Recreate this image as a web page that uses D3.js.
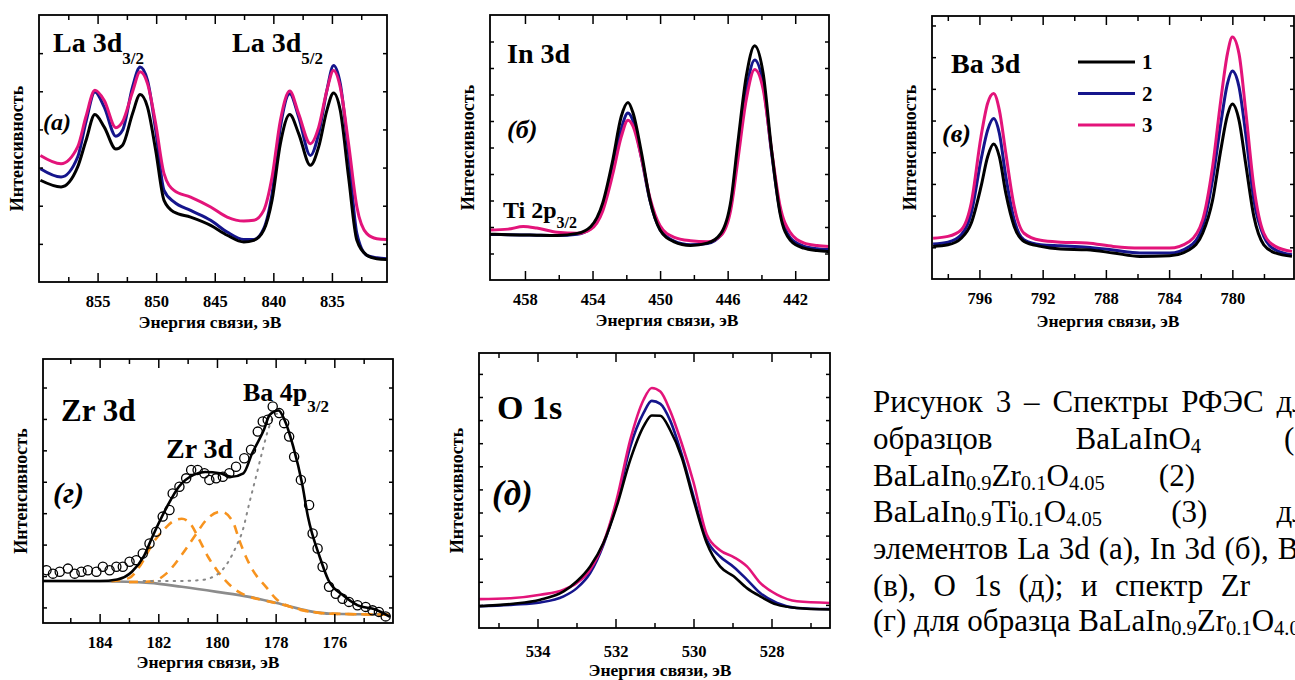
<!DOCTYPE html>
<html lang="ru">
<head>
<meta charset="UTF-8">
<title>Спектры РФЭС</title>
<script src="https://cdn.jsdelivr.net/npm/d3@7"></script>
<style>
  body { margin: 0; background: #fff; overflow: hidden; }
  svg { display: block; }
  svg text { font-family: "Liberation Serif", "DejaVu Serif", "Times New Roman", serif; }
</style>
</head>
<body>
<script>
// sample colours: 1 - BaLaInO4, 2 - Zr doped, 3 - Ti doped
const sampleColors = ["#000000", "#15158c", "#e3147a"];
const sampleNames = ["1", "2", "3"];

// (a) La 3d, intensity in % of frame height
const laEnergy = [859.88, 858.12, 856.70, 855.99, 855.23, 854.43, 853.44, 852.87, 852.02, 851.37, 850.74, 850.04, 849.33, 848.48, 847.06, 845.35, 843.94, 842.52, 841.67, 840.82, 840.11, 839.40, 838.60, 837.84, 836.84, 836.13, 835.43, 834.86, 834.29, 833.58, 832.87, 832.02, 831.17, 830.32];
const la1 = [38.1, 35.6, 43.1, 53, 62.7, 58, 49.8, 51.2, 63, 70.2, 65.5, 49.3, 30.6, 26.2, 24.3, 21.2, 17.5, 15, 15.6, 19.4, 30.6, 51.8, 62.7, 55.6, 43.7, 50.6, 64.3, 70.8, 64.3, 39.3, 15.6, 10, 8.7, 8.4];
const la2 = [42.4, 39.3, 46.8, 60, 71.2, 65.5, 54.6, 56.8, 73, 80.5, 75.5, 56.8, 34.3, 30, 26.8, 23.1, 18.7, 15.9, 15.9, 20, 33, 58, 70.5, 61.8, 47.4, 55.6, 71.8, 81.1, 74.3, 48, 18.1, 10, 9.1, 8.7];
const la3 = [47.4, 44.3, 50.6, 62, 71.8, 68, 57.8, 60, 71.2, 78.7, 74.3, 59.3, 40.6, 34.3, 31.8, 28.1, 24.3, 22.8, 23.1, 26.8, 39.3, 60.5, 71.5, 63, 51.8, 58, 71.8, 79.2, 73, 51.8, 28.1, 18.1, 16.2, 15.9];

// (б) In 3d
const inEnergy = [460.07, 459, 458.1, 457.3, 456.1, 454.9, 454.1, 453.4, 452.8, 452.3, 451.9, 451.6, 451.1, 450.6, 450.0, 449.2, 448.2, 447.2, 446.4, 445.8, 445.4, 444.9, 444.4, 443.9, 443.4, 442.9, 442.3, 441.5, 440.7, 440.0];
const in1 = [17.3, 17.1, 17, 16.9, 16.8, 17.6, 20.2, 29, 45.3, 61.7, 67, 63, 47.9, 30.2, 18.9, 14.5, 13, 13.9, 17.6, 30.2, 51.6, 76.8, 88.4, 78, 49.1, 25.2, 15.1, 12, 11.1, 10.7];
const in2 = [17.2, 17.1, 17, 16.9, 16.8, 17.3, 19.5, 27.5, 42, 57, 63, 60, 46, 30, 19, 14.8, 13.3, 13.8, 17, 28.5, 48, 71.5, 83, 74, 48, 26, 16, 12.8, 11.8, 11.5];
const in3 = [18.9, 19.2, 20.2, 19.6, 18, 17.6, 19.2, 26, 40, 54, 60.3, 58, 46, 31, 20.5, 16.2, 14.8, 14.4, 16.8, 27, 45, 68, 79.4, 72, 49, 28, 18, 14, 13, 12.6];

// (в) Ba 3d
const baEnergy = [798.93, 797.99, 797.15, 796.52, 795.90, 795.48, 795.10, 794.74, 794.33, 793.80, 793.18, 792.13, 790.87, 789.20, 787.53, 785.85, 783.97, 782.72, 781.88, 781.25, 780.73, 780.31, 780.0, 779.58, 779.16, 778.64, 778.01, 777.28, 776.23];
const ba1 = [12.4, 13, 15.5, 21.2, 35.1, 46.5, 51.3, 46.5, 32.6, 20, 14.3, 12.4, 11.4, 11.1, 9.9, 8.6, 8.8, 11.1, 17.4, 30, 49.1, 62.3, 66.5, 60.4, 44, 23.8, 13, 9.9, 8.6];
const ba2 = [13.3, 14, 16.8, 25, 45.3, 56.6, 61, 55.4, 39, 22.5, 14.9, 13, 12.6, 12.1, 11, 9.9, 9.9, 12.4, 20, 37.7, 59.2, 74.3, 79.1, 73.1, 55.4, 30, 16.2, 11.1, 9.2];
const ba3 = [15.5, 16.2, 18.7, 28.8, 54.1, 66.8, 70.5, 64.2, 47.8, 27.6, 17.4, 14.7, 14, 13.7, 12.4, 11.8, 11.8, 14.3, 22.5, 42.7, 68, 85.7, 92, 85.7, 64.2, 35.1, 17.4, 12.4, 10.5];

// (г) Zr 3d / Ba 4p3/2 of sample 2: measured points, fit and components
const zrPointE = [185.81, 185.59, 185.36, 185.08, 184.85, 184.62, 184.40, 184.11, 183.89, 183.66, 183.43, 183.21, 182.98, 182.75, 182.53, 182.30, 182.07, 181.85, 181.62, 181.51, 181.28, 181.05, 180.88, 180.66, 180.43, 180.26, 180.03, 179.80, 179.58, 179.35, 179.07, 178.84, 178.61, 178.44, 178.27, 178.10, 177.88, 177.71, 177.54, 177.37, 177.14, 176.86, 176.74, 176.57, 176.40, 176.18, 175.95, 175.72, 175.50, 175.21, 174.93, 174.70, 174.48, 174.25];
const zrPointI = [20.0, 18.7, 19.4, 20.6, 18.7, 19.4, 20.0, 19.4, 21.3, 20.0, 21.3, 21.3, 23.2, 23.8, 26.3, 30.1, 34.6, 40.3, 42.8, 49.1, 51.6, 54.8, 58.0, 58.0, 56.7, 54.2, 54.8, 55.4, 56.7, 59.2, 62.4, 65.6, 72.5, 76.3, 77.0, 82.0, 79.5, 75.7, 70.6, 63.0, 54.2, 44.7, 33.9, 28.2, 21.3, 13.7, 11.1, 9.2, 8.0, 6.7, 6.1, 4.8, 4.2, 2.5];
const zrFitE = [185.93, 184.0, 183.4, 182.9, 182.5, 182.2, 181.7, 181.3, 180.8, 180.4, 179.9, 179.5, 179.1, 178.8, 178.4, 178.2, 177.9, 177.7, 177.4, 177.1, 176.9, 176.5, 176.2, 175.7, 175.2, 174.6, 174.1];
const zrFitI = [15.9, 15.9, 16.5, 19.4, 25.1, 32.7, 44.1, 51.6, 56.1, 57.2, 56.7, 55.4, 56.7, 64.3, 73.2, 78.9, 80.5, 77, 66.8, 52.9, 40.3, 25.1, 16.2, 10.5, 6.7, 5.1, 2.3];
const zrBgE = [185.93, 184.0, 182.3, 181.2, 180.0, 178.9, 177.8, 176.9, 176.1, 174.9, 174.1];
const zrBgI = [15.9, 15.8, 15.2, 13.7, 11.8, 9.9, 7.1, 4.6, 3.5, 3.3, 3.2];
const zr32E = [183.6, 183.0, 182.6, 182.2, 181.8, 181.5, 181.2, 180.9, 180.6, 180.3, 180.0, 179.7, 179.35, 178.9, 178.5, 177.8, 177.0, 176.1, 174.1];
const zr32I = [15.8, 17, 22, 30, 35.5, 38.5, 39.5, 37.5, 31.5, 25, 20, 16, 12.4, 10, 8.8, 7.1, 4.7, 3.5, 3.2];
const zr52E = [183.0, 182.2, 181.73, 181.17, 180.7, 180.37, 179.86, 179.46, 179.24, 179.01, 178.78, 178.33, 177.99, 177.5, 177.0, 176.0, 174.1];
const zr52I = [15.5, 15.8, 18.7, 26.3, 33.9, 39, 42.2, 38.4, 31.4, 25, 20, 13.7, 9.2, 6.1, 4.6, 3.5, 3.2];
const ba4pE = [182.5, 181.6, 180.6, 180.03, 179.58, 179.35, 179.12, 178.9, 178.67, 178.44, 178.22, 177.99, 177.8];
const ba4pI = [15.9, 15.9, 16.2, 18.1, 23.8, 28.9, 35.2, 45.3, 55.4, 65.6, 74.4, 79.2, 79.5];

// (д) O 1s
const oEnergy = [535.49, 534.62, 533.93, 533.33, 532.99, 532.65, 532.31, 531.97, 531.62, 531.28, 531.07, 530.85, 530.6, 530.3, 530.0, 529.66, 529.32, 528.97, 528.63, 528.29, 527.86, 527.35, 526.5];
const o1 = [7.9, 8.8, 10.3, 13.3, 17, 22.4, 30.9, 44.2, 61.2, 73.3, 77.3, 77.2, 72, 62, 46.7, 30.9, 22.4, 18.8, 14.5, 11.5, 8.5, 7.3, 6.7];
const o2 = [7.9, 8.5, 9.3, 11.5, 14.5, 20, 30.3, 45.5, 66, 78.2, 82.6, 81.5, 75.5, 63, 47.9, 32.1, 26, 22.2, 17.6, 12.7, 9.1, 7.3, 6.9];
const o3 = [10.5, 10.9, 12.1, 13.9, 16.4, 21.2, 30.9, 46.7, 68.5, 83, 87.3, 86, 79, 67, 53, 34, 28.3, 25.8, 22.4, 16.4, 12.1, 9.7, 9.1];

const W = 1295, H = 680;

const svg = d3.select("body").append("svg")
    .attr("width", W).attr("height", H);

// text with optional subscripts: parts = [[text, isSub], ...]
function richText(g, x, y, size, parts, subSize, shift, style) {
    const t = g.append("text").attr("x", x).attr("y", y)
        .attr("font-size", size).attr("font-weight", style.weight || "normal")
        .attr("font-style", style.italic ? "italic" : "normal");
    let down = false;
    parts.forEach(p => {
        const s = t.append("tspan").text(p[0]);
        if (p[1] && !down) { s.attr("font-size", subSize).attr("dy", shift); down = true; }
        else if (!p[1] && down) { s.attr("dy", -shift); down = false; }
        else if (p[1]) s.attr("font-size", subSize);
    });
    return t;
}

function drawPanel(p) {
    const x = d3.scaleLinear().domain(p.xDomain).range([p.left, p.right]);
    const y = d3.scaleLinear().domain([0, 100]).range([p.bottom, p.top]);
    const g = svg.append("g");

    svg.append("clipPath").attr("id", "clip-" + p.id)
        .append("rect")
        .attr("x", p.left).attr("y", p.top)
        .attr("width", p.right - p.left).attr("height", p.bottom - p.top);
    const plot = g.append("g").attr("clip-path", "url(#clip-" + p.id + ")");

    const line = d3.line()
        .x(d => x(d[0])).y(d => y(d[1]))
        .curve(d3.curveMonotoneX);

    p.series.forEach(s => {
        plot.append("path")
            .datum(d3.zip(s.x, s.y))
            .attr("d", line)
            .attr("fill", "none")
            .attr("stroke", s.color)
            .attr("stroke-width", s.width || 3)
            .attr("stroke-dasharray", s.dash || null)
            .attr("stroke-linecap", s.cap || "butt")
            .attr("stroke-linejoin", "round");
    });

    if (p.points) {
        plot.selectAll("circle.pt")
            .data(d3.zip(p.points.x, p.points.y))
            .join("circle")
            .attr("class", "pt")
            .attr("cx", d => x(d[0])).attr("cy", d => y(d[1]))
            .attr("r", 4.6)
            .attr("fill", "none")
            .attr("stroke", "#000")
            .attr("stroke-width", 1.3);
    }

    // axes, ticks pointing inward
    const bottomMajor = g.append("g").attr("transform", "translate(0," + p.bottom + ")")
        .call(d3.axisBottom(x).tickValues(p.major).tickSize(-9).tickPadding(p.pad || 13).tickFormat(d3.format("d")));
    bottomMajor.attr("font-size", 16.5).attr("font-weight", "bold");
    g.append("g").attr("transform", "translate(0," + p.bottom + ")")
        .call(d3.axisBottom(x).tickValues(p.minor).tickSize(-5).tickFormat(""));
    g.append("g").attr("transform", "translate(0," + p.top + ")")
        .call(d3.axisTop(x).tickValues(p.major).tickSize(-9).tickFormat(""));
    g.append("g").attr("transform", "translate(0," + p.top + ")")
        .call(d3.axisTop(x).tickValues(p.minor).tickSize(-5).tickFormat(""));
    const yt = d3.range(p.yStart, 99, p.yStep);
    g.append("g").attr("transform", "translate(" + p.left + ",0)")
        .call(d3.axisLeft(y).tickValues(yt).tickSize(-4).tickFormat(""));
    g.append("g").attr("transform", "translate(" + p.right + ",0)")
        .call(d3.axisRight(y).tickValues(yt).tickSize(-4).tickFormat(""));
    g.selectAll(".domain").remove();
    g.selectAll(".tick line").attr("stroke", "#000").attr("stroke-width", 1.5);
    bottomMajor.selectAll("text").attr("fill", "#000");

    g.append("rect")
        .attr("x", p.left).attr("y", p.top)
        .attr("width", p.right - p.left).attr("height", p.bottom - p.top)
        .attr("fill", "none").attr("stroke", "#000").attr("stroke-width", 1.8);

    g.append("text")
        .attr("x", p.titleX).attr("y", p.bottom + p.titleDy)
        .attr("text-anchor", "middle")
        .attr("font-size", 17.5).attr("font-weight", "bold")
        .text("Энергия связи, эВ");
    g.append("text")
        .attr("transform", "translate(" + (p.left - 22) + "," + ((p.top + p.bottom) / 2) + ") rotate(-90)")
        .attr("text-anchor", "middle").attr("dy", "0.35em")
        .attr("font-size", 18).attr("font-weight", "bold")
        .text("Интенсивность");
    return g;
}

const three = (e, a, b, c) => [
    {x: e, y: b, color: sampleColors[1]},
    {x: e, y: c, color: sampleColors[2]},
    {x: e, y: a, color: sampleColors[0]}
];

// (а)
const gA = drawPanel({
    id: "a", left: 39, right: 387, top: 15, bottom: 282,
    xDomain: [860, 830.3], major: [855, 850, 845, 840, 835], minor: [857.5, 852.5, 847.5, 842.5, 837.5, 832.5],
    yStart: 100 / 7, yStep: 100 / 7, titleX: 210, titleDy: 46,
    series: three(laEnergy, la1, la2, la3)
});
richText(gA, 53, 52, 28, [["La 3d", false], ["3/2", true]], 17, 12, {weight: "bold"});
richText(gA, 232, 52, 28, [["La 3d", false], ["5/2", true]], 17, 12, {weight: "bold"});
richText(gA, 43, 130, 24, [["(а)", false]], 0, 0, {weight: "bold", italic: true});

// (б)
const gB = drawPanel({
    id: "b", left: 490, right: 829, top: 15, bottom: 280,
    xDomain: [460.07, 440], major: [458, 454, 450, 446, 442], minor: [456, 452, 448, 444],
    yStart: 10, yStep: 10, titleX: 667, titleDy: 46,
    series: three(inEnergy, in1, in2, in3)
});
richText(gB, 507, 63, 28, [["In 3d", false]], 0, 0, {weight: "bold"});
richText(gB, 507, 138, 26, [["(б)", false]], 0, 0, {weight: "bold", italic: true});
richText(gB, 503, 218, 24, [["Ti 2p", false], ["3/2", true]], 16, 10, {weight: "bold"});

// (в)
const gC = drawPanel({
    id: "c", left: 932, right: 1294, top: 16, bottom: 279,
    xDomain: [799, 776.1], major: [796, 792, 788, 784, 780], minor: [798, 794, 790, 786, 782, 778],
    yStart: 12.05, yStep: 12.05, titleX: 1108, titleDy: 48,
    series: three(baEnergy, ba1, ba2, ba3)
});
richText(gC, 951, 73, 28, [["Ba 3d", false]], 0, 0, {weight: "bold"});
richText(gC, 942, 142, 26, [["(в)", false]], 0, 0, {weight: "bold", italic: true});
const legend = gC.append("g");
sampleNames.forEach((n, i) => {
    const ly = 62 + i * 31.5;
    legend.append("line").attr("x1", 1078).attr("x2", 1135).attr("y1", ly).attr("y2", ly)
        .attr("stroke", sampleColors[i]).attr("stroke-width", 3);
    legend.append("text").attr("x", 1142).attr("y", ly + 7)
        .attr("font-size", 21).attr("font-weight", "bold").text(n);
});

// (г)
const gD = drawPanel({
    id: "d", left: 43, right: 393, top: 359, bottom: 623,
    xDomain: [185.93, 174.0], major: [184, 182, 180, 178, 176], minor: [185, 183, 181, 179, 177, 175],
    yStart: 5.9, yStep: 11.9, titleX: 208, titleDy: 45,
    series: [
        {x: zrBgE, y: zrBgI, color: "#8c8c8c", width: 2.6},
        {x: zr32E, y: zr32I, color: "#f7931e", width: 2.6, dash: "9,7"},
        {x: zr52E, y: zr52I, color: "#f7931e", width: 2.6, dash: "9,7"},
        {x: ba4pE, y: ba4pI, color: "#888888", width: 2, dash: "1.5,6", cap: "round"},
        {x: zrFitE, y: zrFitI, color: "#000000", width: 2.6}
    ],
    points: {x: zrPointE, y: zrPointI}
});
richText(gD, 61, 421, 31, [["Zr 3d", false]], 0, 0, {weight: "bold"});
richText(gD, 166, 458, 28, [["Zr 3d", false]], 0, 0, {weight: "bold"});
richText(gD, 243, 401, 26, [["Ba 4p", false], ["3/2", true]], 17, 11, {weight: "bold"});
richText(gD, 53, 503, 30, [["(г)", false]], 0, 0, {weight: "bold", italic: true});

// (д)
const gE = drawPanel({
    id: "e", left: 479, right: 830, top: 353, bottom: 628,
    xDomain: [535.5, 526.5], major: [534, 532, 530, 528], minor: [535, 533, 531, 529, 527],
    yStart: 8.4, yStep: 8.4, titleX: 660, titleDy: 48, pad: 17,
    series: three(oEnergy, o1, o2, o3).map(s => Object.assign(s, {width: 2.6}))
});
richText(gE, 497, 419, 34, [["O 1s", false]], 0, 0, {weight: "bold"});
richText(gE, 492, 505, 35, [["(д)", false]], 0, 0, {weight: "bold", italic: true});

// figure caption, justified like the source paragraph (right edge lies past the page)
const cap = svg.append("g").attr("fill", "#000");
const capLeft = 873;
function capLine(y, words, right) {
    const nodes = words.map(parts => richText(cap, capLeft, y, 31, parts, 20.5, 4, {}));
    if (nodes.length < 2) return;
    const widths = nodes.map(n => n.node().getComputedTextLength());
    const gap = Math.max(7, (right - capLeft - d3.sum(widths)) / (nodes.length - 1));
    let cx = capLeft;
    nodes.forEach((n, i) => { n.attr("x", cx); cx += widths[i] + gap; });
}
const w = s => [[s, false]];
capLine(412, [w("Рисунок"), w("3"), w("–"), w("Спектры"), w("РФЭС"), w("для")], 1322);
capLine(449, [w("образцов"), [["BaLaInO", false], ["4", true]], w("(1),")], 1328);
capLine(485.5, [[["BaLaIn", false], ["0.9", true], ["Zr", false], ["0.1", true], ["O", false], ["4.05", true]], w("(2)")], 1195);
capLine(522, [[["BaLaIn", false], ["0.9", true], ["Ti", false], ["0.1", true], ["O", false], ["4.05", true]], w("(3)"), w("для")], 1322);
capLine(559, [w("элементов"), w("La"), w("3d"), w("(а),"), w("In"), w("3d"), w("(б),"), w("Ba"), w("3d")], 1352);
capLine(595.5, [w("(в),"), w("O"), w("1s"), w("(д);"), w("и"), w("спектр"), w("Zr")], 1250);
capLine(631, [[["(г) для образца BaLaIn", false], ["0.9", true], ["Zr", false], ["0.1", true], ["O", false], ["4.05", true], [".", false]]], 0);
</script>
</body>
</html>
